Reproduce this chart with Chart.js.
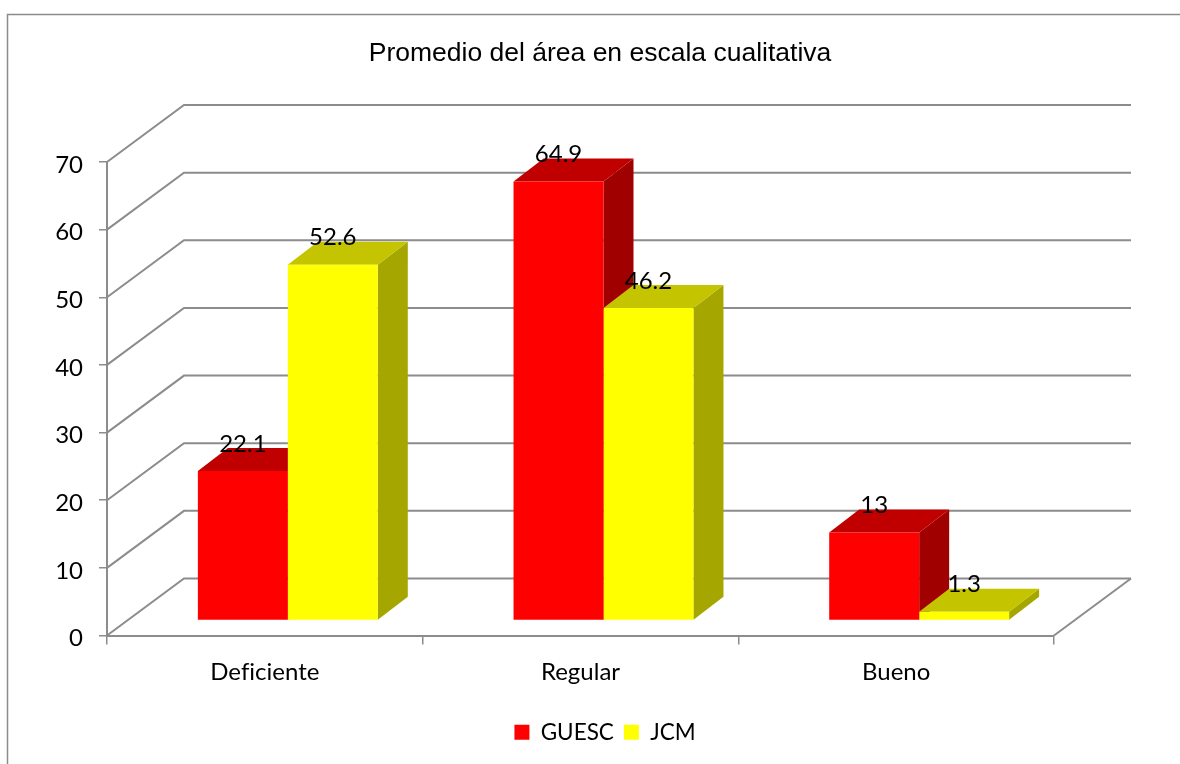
<!DOCTYPE html>
<html lang="es">
<head>
<meta charset="utf-8">
<title>Promedio del área en escala cualitativa</title>
<script src="https://cdn.jsdelivr.net/npm/chart.js@4"></script>
<style>
	html, body { margin: 0; padding: 0; background: #fff; }
	canvas { display: block; }
</style>
</head>
<body>
<canvas id="chart" width="1180" height="764"></canvas>
<script>
/* global Chart */
const categories = ['Deficiente', 'Regular', 'Bueno'];
const guesc = [22.1, 64.9, 13];
const jcm = [52.6, 46.2, 1.3];
const chartTitle = 'Promedio del área en escala cualitativa';

const gray = '#8c8c8c';
const textFont = 'Lato';

// Perspectiva falsa: pared del fondo y profundidad de las barras
const wall = { dx: 77, dy: 57 };
const barShift = { dx: 23, dy: 15 };
const barDepth = { dx: 30, dy: 23 };

const shades = {
	'#ff0000': { top: '#c00000', side: '#a00000' },
	'#ffff00': { top: '#c4c400', side: '#a6a600' }
};

function face(ctx, color, pts) {
	ctx.fillStyle = color;
	ctx.beginPath();
	pts.forEach((p, i) => (i ? ctx.lineTo(p[0], p[1]) : ctx.moveTo(p[0], p[1])));
	ctx.closePath();
	ctx.fill();
}

const frame3d = {
	id: 'frame3d',
	afterLayout(chart) {
		// centra título y leyenda igual que el original
		chart.titleBlock.left = 20;
		chart.titleBlock.right = 1180;
		chart.legend.left = 30;
		chart.legend.right = 1180;
		chart.legend.top = 711;
	},
	beforeDraw(chart) {
		const ctx = chart.ctx;
		// sin ligaduras "fi" en las etiquetas
		ctx.textRendering = 'optimizeSpeed';
		ctx.save();
		ctx.strokeStyle = gray;
		ctx.lineWidth = 1.5;
		ctx.beginPath();
		ctx.moveTo(7.5, 764);
		ctx.lineTo(7.5, 14.5);
		ctx.lineTo(1180, 14.5);
		ctx.stroke();
		ctx.restore();
	},
	beforeDatasetsDraw(chart) {
		const { ctx, scales: { x, y } } = chart;
		ctx.save();
		ctx.strokeStyle = gray;
		ctx.lineWidth = 2;
		y.ticks.forEach((tick) => {
			const py = y.getPixelForValue(tick.value);
			ctx.beginPath();
			ctx.moveTo(x.left, py);
			ctx.lineTo(x.left + wall.dx, py - wall.dy);
			ctx.lineTo(x.right + wall.dx, py - wall.dy);
			ctx.stroke();
		});
		const py0 = y.getPixelForValue(0);
		ctx.beginPath();
		ctx.moveTo(x.right, py0);
		ctx.lineTo(x.right + wall.dx, py0 - wall.dy);
		ctx.stroke();

		// caras laterales y superiores, de izquierda a derecha; los frentes van después
		ctx.translate(barShift.dx, -barShift.dy);
		chart.data.datasets.forEach((ds, i) => {
			chart.getDatasetMeta(i).data.forEach((bar) => {
				const l = bar.x - bar.width / 2;
				const r = bar.x + bar.width / 2;
				const { dx, dy } = barDepth;
				face(ctx, shades[ds.backgroundColor].side, [[r, bar.y], [r + dx, bar.y - dy], [r + dx, bar.base - dy], [r, bar.base]]);
				face(ctx, shades[ds.backgroundColor].top, [[l, bar.y], [l + dx, bar.y - dy], [r + dx, bar.y - dy], [r, bar.y]]);
			});
		});
		ctx.restore();
	},
	beforeDatasetDraw(chart) {
		chart.ctx.save();
		chart.ctx.translate(barShift.dx, -barShift.dy);
	},
	afterDatasetDraw(chart) {
		chart.ctx.restore();
	},
	afterDatasetsDraw(chart) {
		const ctx = chart.ctx;
		ctx.save();
		ctx.fillStyle = '#000';
		ctx.font = '24px ' + textFont;
		ctx.textAlign = 'center';
		ctx.textBaseline = 'middle';
		chart.data.datasets.forEach((ds, i) => {
			chart.getDatasetMeta(i).data.forEach((bar, j) => {
				ctx.fillText(String(ds.data[j]), bar.x + barShift.dx, bar.y - barShift.dy - 27);
			});
		});
		ctx.restore();
	}
};

const config = {
	type: 'bar',
	data: {
		labels: categories,
		datasets: [
			{ label: 'GUESC', data: guesc, backgroundColor: '#ff0000', clip: false },
			{ label: 'JCM', data: jcm, backgroundColor: '#ffff00', clip: false }
		]
	},
	options: {
		responsive: false,
		animation: false,
		layout: {
			autoPadding: false,
			padding: { left: 0, right: 126, top: 0, bottom: 0 }
		},
		datasets: {
			bar: { categoryPercentage: 0.57, barPercentage: 1, borderWidth: 0 }
		},
		scales: {
			x: {
				grid: { drawOnChartArea: false, color: gray, lineWidth: 1.5, tickLength: 9 },
				border: { color: gray, width: 2 },
				ticks: { color: '#000', padding: 13, maxRotation: 0, font: { family: textFont, size: 24 } },
				afterFit(scale) { scale.height = 86; }
			},
			y: {
				min: 0,
				max: 70,
				grid: { drawOnChartArea: false, color: gray, lineWidth: 1.5, tickLength: 8 },
				border: { color: gray, width: 2 },
				ticks: { stepSize: 10, color: '#000', padding: 16, labelOffset: 3, font: { family: textFont, size: 24 } },
				afterFit(scale) { scale.width = 107; }
			}
		},
		plugins: {
			title: {
				display: true,
				text: chartTitle,
				color: '#000',
				font: { family: 'Liberation Sans', size: 26.5, weight: 'normal' },
				padding: { top: 38, bottom: 92.2 }
			},
			legend: {
				position: 'bottom',
				labels: { color: '#000', boxWidth: 15, boxHeight: 15, padding: 10, font: { family: textFont, size: 22.5 } }
			},
			tooltip: { enabled: false }
		}
	},
	plugins: [frame3d]
};

const graph = new Chart(document.getElementById('chart'), config);
</script>
</body>
</html>
